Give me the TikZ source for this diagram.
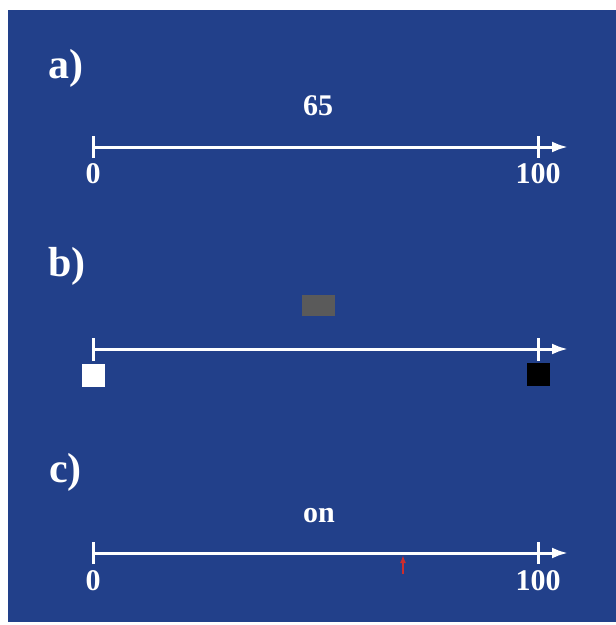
\documentclass[tikz,border=0pt]{standalone}
\usepackage{fontspec}
\setmainfont{Liberation Serif}
\usetikzlibrary{arrows.meta}
\definecolor{bgblue}{RGB}{34,64,138}
\definecolor{boxgrey}{RGB}{90,90,90}
\definecolor{markred}{RGB}{205,45,45}
\begin{document}
\begin{tikzpicture}[x=1pt,y=-1pt,
  axis/.style={draw=white,line width=3pt,-{Latex[length=16pt,width=11pt]}},
  tickmark/.style={draw=white,line width=3pt},
  panel/.style={text=white,font=\fontsize{42}{42}\selectfont\bfseries,inner sep=0pt,anchor=base west},
  num/.style={text=white,font=\fontsize{30}{30}\selectfont\bfseries,inner sep=0pt,anchor=base},
  sq/.style={inner sep=0pt,minimum width=23pt,minimum height=23pt}]
\useasboundingbox (0,0) rectangle (616,625);
\fill[white] (0,0) rectangle (616,625);
\fill[bgblue] (8,10) rectangle (616,622);
% a)
\node[panel] (la) at (48,78) {a)};
\node[num] (va) at (318,115) {65};
\coordinate (a0) at (93,147);
\coordinate (a1) at (538,147);
\coordinate (ae) at (568,147);
\draw[axis] (a0) -- (ae);
\draw[tickmark] ([yshift=-11pt]a0) -- ([yshift=11pt]a0);
\draw[tickmark] ([yshift=-11pt]a1) -- ([yshift=11pt]a1);
\node[num] (za) at (93,183) {0};
\node[num] (ha) at (538,183) {100};
% b)
\node[panel] (lb) at (48,276) {b)};
\node[fill=boxgrey,inner sep=0pt,minimum width=33pt,minimum height=21pt] (gb) at (318.5,305.5) {};
\coordinate (b0) at (93,349);
\coordinate (b1) at (538,349);
\coordinate (be) at (568,349);
\draw[axis] (b0) -- (be);
\draw[tickmark] ([yshift=-12pt]b0) -- ([yshift=11pt]b0);
\draw[tickmark] ([yshift=-12pt]b1) -- ([yshift=11pt]b1);
\node[sq,fill=white] (wb) at (93.5,375) {};
\node[sq,fill=black] (kb) at (538.5,374.5) {};
% c)
\node[panel] (lc) at (49,482) {c)};
\node[num] (vc) at (319,522.5) {on};
\coordinate (c0) at (93,553);
\coordinate (c1) at (538,553);
\coordinate (ce) at (568,553);
\draw[axis] (c0) -- (ce);
\draw[tickmark] ([yshift=-11pt]c0) -- ([yshift=11pt]c0);
\draw[tickmark] ([yshift=-11pt]c1) -- ([yshift=11pt]c1);
\node[num] (zc) at (93,590) {0};
\node[num] (hc) at (538,590) {100};
\coordinate (rb) at (403,574);
\coordinate (rt) at (403,555);
\draw[markred,line width=2pt,-{Latex[length=8pt,width=6pt]}] (rb) -- (rt);
\end{tikzpicture}
\end{document}
